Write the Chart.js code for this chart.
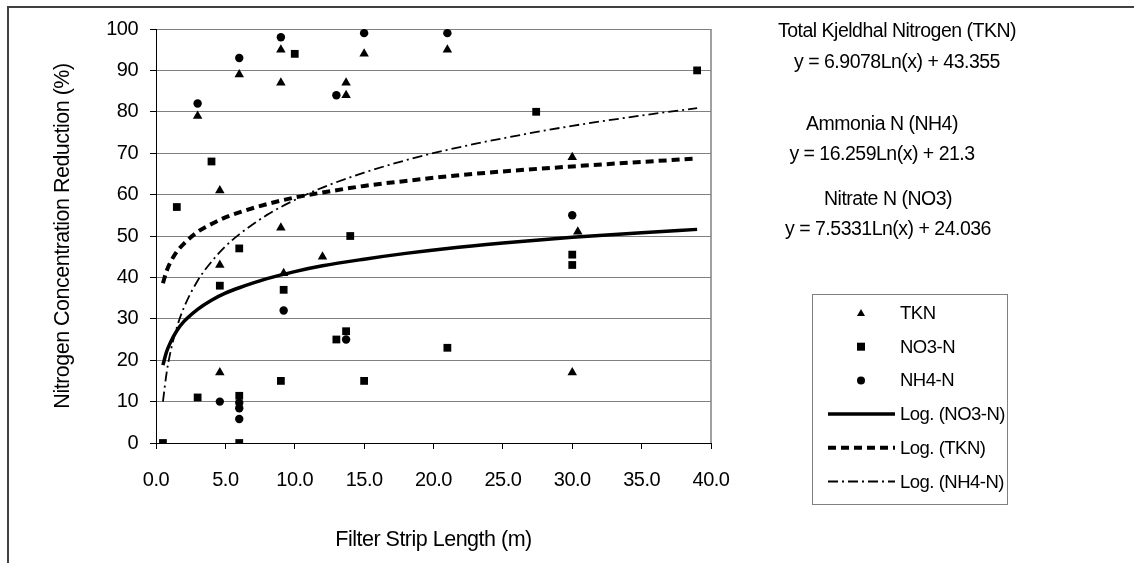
<!DOCTYPE html>
<html>
<head>
<meta charset="utf-8">
<script src="https://cdn.jsdelivr.net/npm/chart.js@4/dist/chart.umd.min.js"></script>
<style>
  html, body { margin: 0; padding: 0; background: #fff; }
  canvas { display: block; }
</style>
</head>
<body>
<canvas id="chart" width="1134" height="563"></canvas>
<script>
// values (x = filter strip length m, y = reduction %)
const tknX = [3, 4.6, 4.6, 4.6, 6, 9, 9, 9, 9.2, 12, 13.7, 13.7, 15, 21, 30, 30, 30.4];
const tknY = [79, 61, 43, 17, 89, 95, 87, 52, 41, 45, 87, 84, 94, 95, 69, 17, 51];

const no3X = [0.5, 1.5, 3, 4, 4.6, 6, 6, 6, 9, 9.2, 10, 13, 13.7, 14, 15, 21, 27.4, 30, 30, 39];
const no3Y = [0, 57, 11, 68, 38, 47, 11.4, 0, 15, 37, 94, 25, 27, 50, 15, 23, 80, 45.5, 43, 90];

const nh4X = [3, 4.6, 6, 6, 6, 6, 9, 9.2, 13, 13.7, 15, 21, 30];
const nh4Y = [82, 10, 93, 9.7, 8.4, 5.8, 98, 32, 84, 25, 99, 99, 55];

// trend curves
const trendX = [0.5, 0.75, 1, 1.5, 2, 3, 4, 5, 6, 8, 10, 12, 15, 18, 21, 25, 30, 35, 39];
const no3TrendY = [18.8, 21.9, 24.0, 27.1, 29.3, 32.3, 34.5, 36.2, 37.5, 39.7, 41.4, 42.8, 44.4, 45.8, 47.0, 48.3, 49.7, 50.8, 51.6];
const tknTrendY = [38.6, 41.4, 43.4, 46.2, 48.1, 51.0, 52.9, 54.5, 55.7, 57.7, 59.3, 60.5, 62.1, 63.3, 64.4, 65.6, 66.8, 67.9, 68.7];
const nh4TrendY = [10.0, 16.6, 21.3, 27.9, 32.6, 39.2, 43.8, 47.5, 50.4, 55.1, 58.7, 61.7, 65.3, 68.3, 70.8, 73.6, 76.6, 79.1, 80.9];

const equationText = [
  ['Total Kjeldhal Nitrogen (TKN)', 'y = 6.9078Ln(x) + 43.355'],
  ['Ammonia N (NH4)', 'y = 16.259Ln(x) + 21.3'],
  ['Nitrate N (NO3)', 'y = 7.5331Ln(x) + 24.036']
];

const FONT = "'Liberation Sans', Arial, sans-serif";
const toPoints = (xs, ys) => xs.map((x, i) => ({ x: x, y: ys[i] }));

// frame, plot border, equations and legend
const extras = {
  id: 'extras',
  beforeDraw(chart) {
    const ctx = chart.ctx;
    ctx.letterSpacing = '-0.5px'; // excel-ish tight text
    ctx.save();
    ctx.strokeStyle = '#404040';
    ctx.lineWidth = 2;
    ctx.beginPath();
    ctx.moveTo(8, 563);
    ctx.lineTo(8, 7);
    ctx.lineTo(1134, 7);
    ctx.stroke();
    ctx.restore();
  },
  afterDraw(chart) {
    const ctx = chart.ctx;
    const a = chart.chartArea;
    ctx.save();
    // right edge of plot
    ctx.strokeStyle = '#808080';
    ctx.lineWidth = 1.5;
    ctx.beginPath();
    ctx.moveTo(a.right, a.top);
    ctx.lineTo(a.right, a.bottom);
    ctx.stroke();

    // equations
    ctx.fillStyle = '#000';
    ctx.font = '19.5px ' + FONT;
    ctx.textAlign = 'center';
    ctx.textBaseline = 'middle';
    const eqX = [897, 882, 888];
    const eqY = [[32, 63], [125, 155], [200, 230]];
    equationText.forEach((pair, i) => {
      ctx.fillText(pair[0], eqX[i], eqY[i][0]);
      ctx.fillText(pair[1], eqX[i], eqY[i][1]);
    });

    // legend box
    ctx.strokeStyle = '#808080';
    ctx.lineWidth = 1;
    ctx.strokeRect(812.5, 294.5, 195, 210);
    ctx.font = '18.5px ' + FONT;
    ctx.textAlign = 'left';
    chart.data.datasets.forEach((ds, i) => {
      const y = 313 + i * 33.7;
      if (ds.showLine) {
        ctx.strokeStyle = '#000';
        ctx.lineWidth = ds.borderWidth;
        ctx.setLineDash(ds.borderDash || []);
        ctx.beginPath();
        ctx.moveTo(828, y);
        ctx.lineTo(895, y);
        ctx.stroke();
        ctx.setLineDash([]);
      } else {
        ctx.fillStyle = '#000';
        ctx.beginPath();
        if (ds.pointStyle === 'triangle') {
          ctx.moveTo(861, y - 4);
          ctx.lineTo(865, y + 3);
          ctx.lineTo(857, y + 3);
          ctx.closePath();
        } else if (ds.pointStyle === 'rect') {
          ctx.rect(857, y - 4, 8, 8);
        } else {
          ctx.arc(861, y, 4, 0, Math.PI * 2);
        }
        ctx.fill();
      }
      ctx.fillStyle = '#000';
      ctx.fillText(ds.label, 900, y + 1);
    });
    ctx.restore();
  }
};

new Chart(document.getElementById('chart'), {
  type: 'scatter',
  data: {
    datasets: [
      {
        label: 'TKN',
        data: toPoints(tknX, tknY),
        pointStyle: 'triangle',
        pointRadius: 5.5,
        backgroundColor: '#000',
        borderColor: '#000',
        borderWidth: 0
      },
      {
        label: 'NO3-N',
        data: toPoints(no3X, no3Y),
        pointStyle: 'rect',
        pointRadius: 5.5,
        backgroundColor: '#000',
        borderColor: '#000',
        borderWidth: 0
      },
      {
        label: 'NH4-N',
        data: toPoints(nh4X, nh4Y),
        pointStyle: 'circle',
        pointRadius: 4.2,
        backgroundColor: '#000',
        borderColor: '#000',
        borderWidth: 0
      },
      {
        label: 'Log. (NO3-N)',
        data: toPoints(trendX, no3TrendY),
        showLine: true,
        borderColor: '#000',
        borderWidth: 3.5,
        pointRadius: 0,
        cubicInterpolationMode: 'monotone'
      },
      {
        label: 'Log. (TKN)',
        data: toPoints(trendX, tknTrendY),
        showLine: true,
        borderColor: '#000',
        borderWidth: 4,
        borderDash: [8, 5],
        pointRadius: 0,
        cubicInterpolationMode: 'monotone'
      },
      {
        label: 'Log. (NH4-N)',
        data: toPoints(trendX, nh4TrendY),
        showLine: true,
        borderColor: '#000',
        borderWidth: 1.8,
        borderDash: [10, 4, 2, 4],
        pointRadius: 0,
        cubicInterpolationMode: 'monotone'
      }
    ]
  },
  options: {
    responsive: false,
    animation: false,
    devicePixelRatio: 1,
    layout: { padding: { top: 29, right: 423, bottom: 0, left: 0 } },
    plugins: {
      legend: { display: false },
      tooltip: { enabled: false }
    },
    scales: {
      x: {
        type: 'linear',
        min: 0,
        max: 40,
        afterFit: (scale) => { scale.height = 120; },
        ticks: {
          stepSize: 5,
          padding: 19,
          color: '#000',
          font: { family: FONT, size: 20 },
          callback: (v) => v.toFixed(1),
          maxRotation: 0
        },
        grid: { drawOnChartArea: false, tickLength: 6, tickColor: '#000' },
        border: { color: '#000', width: 1 },
        title: {
          display: true,
          text: 'Filter Strip Length (m)',
          color: '#000',
          font: { family: FONT, size: 21.5, lineHeight: 1.2 },
          padding: { top: 0, bottom: 10 }
        }
      },
      y: {
        min: 0,
        max: 100,
        afterFit: (scale) => { scale.width = 156; },
        ticks: {
          stepSize: 10,
          padding: 12,
          color: '#000',
          font: { family: FONT, size: 20 }
        },
        grid: { color: '#808080', tickLength: 6, tickColor: '#000' },
        border: { color: '#000', width: 1 },
        title: {
          display: true,
          text: 'Nitrogen Concentration Reduction (%)',
          color: '#000',
          font: { family: FONT, size: 21.5, lineHeight: 1.2 },
          padding: { top: 50, bottom: 0 }
        }
      }
    }
  },
  plugins: [extras]
});
</script>
</body>
</html>
